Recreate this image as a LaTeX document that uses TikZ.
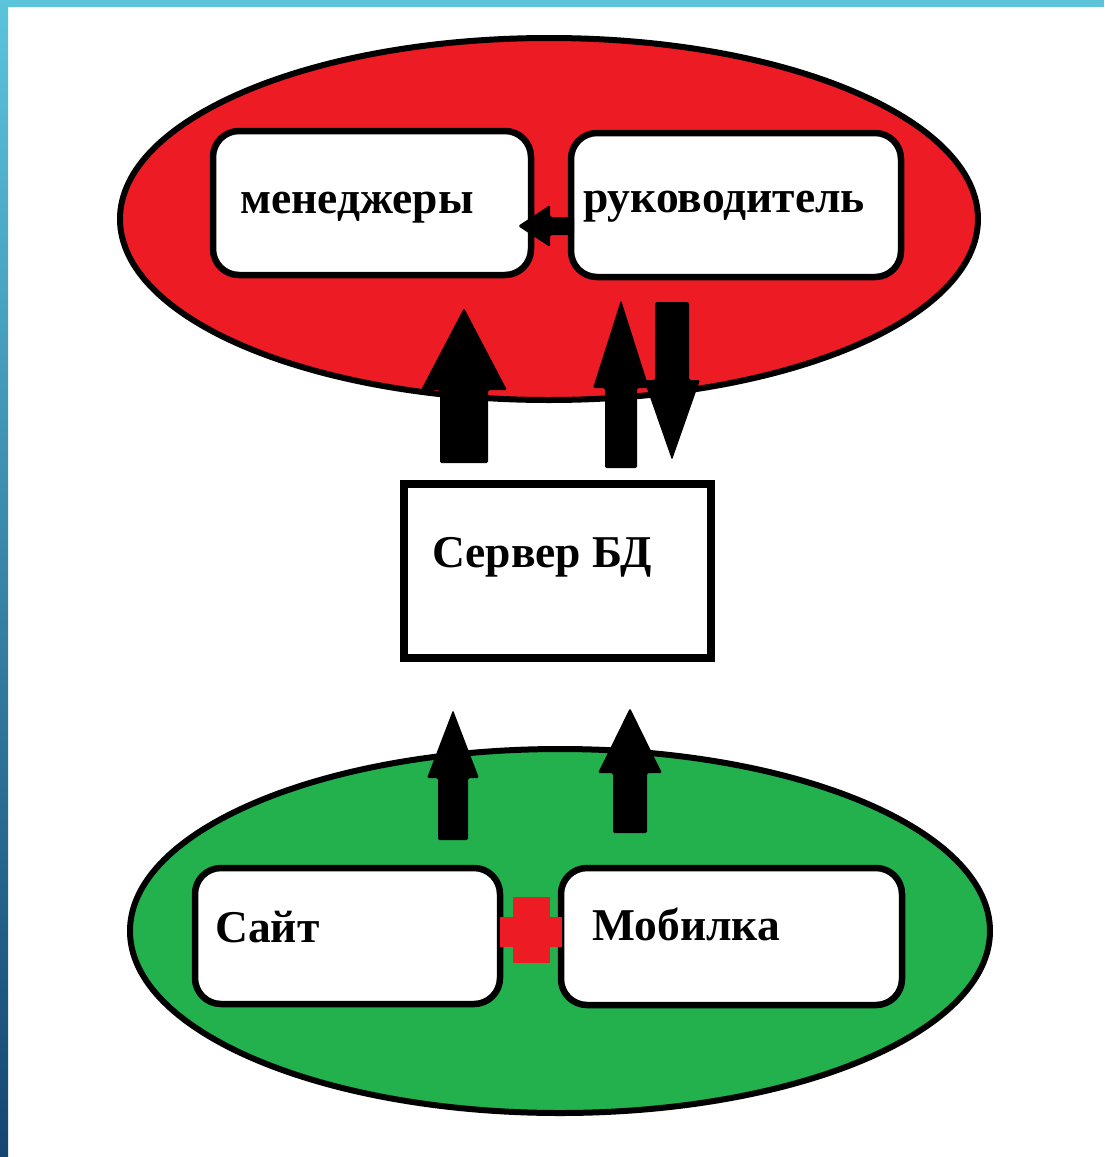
\documentclass[tikz,border=0pt]{standalone}
\usepackage{fontspec}
\setmainfont{Liberation Serif}
\definecolor{pred}{HTML}{ED1C24}
\definecolor{pgreen}{HTML}{22B14C}
\definecolor{frametop}{HTML}{5BC4DA}
\definecolor{framebot}{HTML}{154670}
\newcommand\vblockarrow[6]{% x, ytail, ybase, ytip, shaft half width, head half width
  \fill[black, rounded corners=1.5pt] (#1-#5,#2) -- (#1-#5,#3) -- (#1-#6,#3) -- (#1,#4) -- (#1+#6,#3) -- (#1+#5,#3) -- (#1+#5,#2) -- cycle;}
\begin{document}
\begin{tikzpicture}[x=1pt,y=-1pt,
  roundbox/.style={rectangle, draw=black, fill=white, line width=6.5pt, rounded corners=26pt, inner sep=0pt},
  squarebox/.style={rectangle, draw=black, fill=white, line width=8pt, inner sep=0pt},
  label/.style={font=\fontsize{45.5}{50}\selectfont\bfseries, anchor=base west, inner sep=0pt}]
\useasboundingbox (0,0) rectangle (1104,1157);
\fill[white] (0,0) rectangle (1104,1157);
% frame
\fill[frametop] (0,0) rectangle (1104,7);
\shade[top color=frametop, bottom color=framebot] (0,0) rectangle (8,1157);

% red ellipse
\coordinate (redoval) at (549,219);
\filldraw[pred, draw=black, line width=6pt] (redoval) ellipse [x radius=429, y radius=181];
% green ellipse
\coordinate (greenoval) at (560,931);
\filldraw[pgreen, draw=black, line width=6pt] (greenoval) ellipse [x radius=430, y radius=182];

% top boxes
\node[roundbox, minimum width=318pt, minimum height=144pt] (mgr) at (372,203) {};
\node[roundbox, minimum width=330pt, minimum height=144pt] (boss) at (736,205) {};
\node[label] (mgrtext) at (240,213) {менеджеры};
\node[label] (bosstext) at (583,212) {руководитель};

% small arrow руководитель -> менеджеры
\fill[black, rounded corners=1.5pt] (574,217) -- (550,217) -- (550,205) -- (518,226) -- (550,247) -- (550,235) -- (574,235) -- cycle;

% server box
\node[squarebox, minimum width=307pt, minimum height=174pt] (srv) at (557.5,571) {};
\node[label] (srvtext) at (432,567) {Сервер БД};

% big arrows between server and red oval
\vblockarrow{464}{463}{390}{308}{24}{43}
\vblockarrow{621}{468}{388}{300}{16}{28}
\vblockarrow{672}{302}{380}{460}{17}{28}

% green arrows
\vblockarrow{453}{840}{778}{710}{15}{26}
\vblockarrow{630}{833}{773}{708}{17}{32}

% bottom boxes
\node[roundbox, minimum width=305pt, minimum height=136pt] (site) at (347.5,936) {};
\node[roundbox, minimum width=341pt, minimum height=137pt] (mob) at (731.5,936.5) {};
\node[label] (sitetext) at (215,942) {Сайт};
\node[label] (mobtext) at (592,940) {Мобилка};

% red cross
\fill[pred] (513,897) rectangle (550,963);
\fill[pred] (500,917) rectangle (562,947);
\end{tikzpicture}
\end{document}
